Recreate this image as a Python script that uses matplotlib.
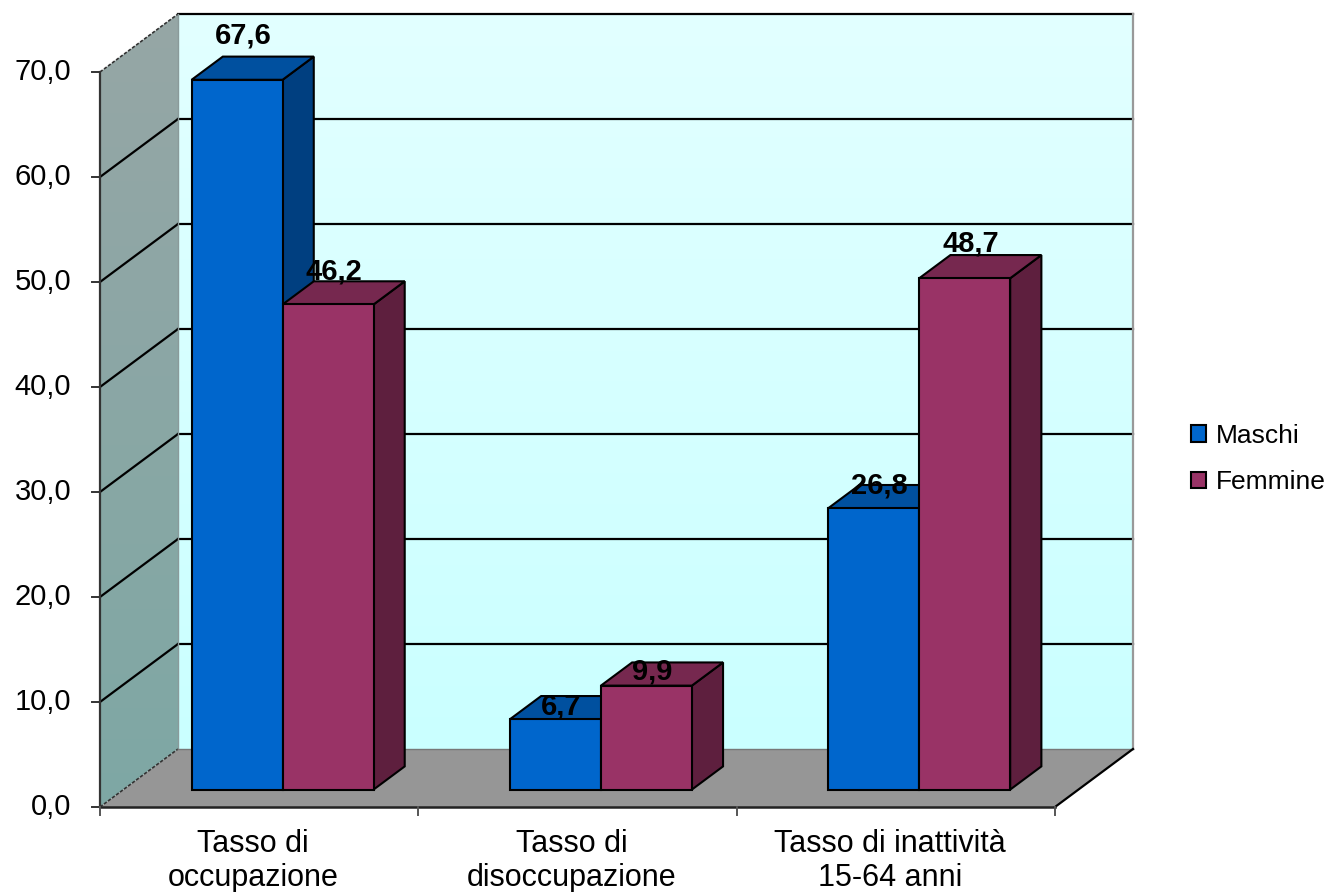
import numpy as np
import matplotlib
matplotlib.use("Agg")
import matplotlib.pyplot as plt
from matplotlib.patches import Polygon, Patch

plt.rcParams['font.family'] = ['Liberation Sans', 'DejaVu Sans']

# ============================================================
# DATA
# ============================================================

categories = ["Tasso di\noccupazione", "Tasso di\ndisoccupazione", "Tasso di inattività\n15-64 anni"]
series_names = ["Maschi", "Femmine"]
maschi = [67.6, 6.7, 26.8]
femmine = [46.2, 9.9, 48.7]
y_ticks = [0, 10, 20, 30, 40, 50, 60, 70]
y_tick_labels = ["0,0", "10,0", "20,0", "30,0", "40,0", "50,0", "60,0", "70,0"]

# ============================================================
# LAYOUT (pixels of the 1343x892 picture)
# ============================================================

W, H = 1343, 892
ORIGIN_PX = (100, 807)        # front corner of floor / y axis
CAT_PX = 318.33               # width of one category on the front edge
UNIT_PX = 10.5                # pixels per value unit
DEPTH_PX = (78, 58)           # shift from front to back wall

DX = DEPTH_PX[0] / CAT_PX
DY = DEPTH_PX[1] / UNIT_PX
YMAX = 70
NCAT = len(categories)

front_colors = ["#0066cc", "#993366"]
top_colors = ["#00509f", "#76284f"]
side_colors = ["#003f80", "#5e1f3e"]


def P(x, v, d):
    return (x + d * DX, v + d * DY)


fig = plt.figure(figsize=(W / 100, H / 100), dpi=100)
ax = fig.add_axes([0, 0, 1, 1])
ax.set_xlim(-ORIGIN_PX[0] / CAT_PX, (W - ORIGIN_PX[0]) / CAT_PX)
ax.set_ylim(-(H - ORIGIN_PX[1]) / UNIT_PX, ORIGIN_PX[1] / UNIT_PX)
ax.axis("off")

px_x = 1.0 / CAT_PX
px_y = 1.0 / UNIT_PX


def gradient_poly(pts, top_rgb, bottom_rgb, z):
    poly = Polygon(pts, closed=True, facecolor="none", edgecolor="none")
    ax.add_patch(poly)
    xs = [p[0] for p in pts]
    ys = [p[1] for p in pts]
    t = np.linspace(0, 1, 256)[:, None]
    top = np.array(top_rgb) / 255.0
    bot = np.array(bottom_rgb) / 255.0
    img = (top[None, None, :] * (1 - t[:, :, None]) + bot[None, None, :] * t[:, :, None])
    img = np.repeat(img, 2, axis=1)
    im = ax.imshow(img, extent=[min(xs), max(xs), min(ys), max(ys)],
                   aspect="auto", origin="upper", zorder=z)
    im.set_clip_path(poly)


# back wall
back = [P(0, 0, 1), P(NCAT, 0, 1), P(NCAT, YMAX, 1), P(0, YMAX, 1)]
gradient_poly(back, (226, 255, 255), (202, 255, 255), 1)
# left wall
left = [P(0, 0, 0), P(0, 0, 1), P(0, YMAX, 1), P(0, YMAX, 0)]
gradient_poly(left, (150, 166, 166), (126, 168, 164), 1)
# floor
floor = [P(0, 0, 0), P(NCAT, 0, 0), P(NCAT, 0, 1), P(0, 0, 1)]
ax.add_patch(Polygon(floor, closed=True, facecolor="#969696", edgecolor="none", zorder=1))

# gridlines
for v in y_ticks[1:]:
    a, b, c = P(0, v, 0), P(0, v, 1), P(NCAT, v, 1)
    ax.plot([b[0], c[0]], [b[1], c[1]], color="black", lw=1.6, zorder=2)
    if v < YMAX:
        ax.plot([a[0], b[0]], [a[1], b[1]], color="black", lw=1.6, zorder=2)

# wall edges
a, b = P(0, YMAX, 0), P(0, YMAX, 1)
ax.plot([a[0], b[0]], [a[1], b[1]], color="#333333", lw=1.2, ls=(0, (2, 1)), zorder=2)
a, b = P(0, 0, 0), P(0, 0, 1)
ax.plot([a[0], b[0]], [a[1], b[1]], color="#333333", lw=1.2, ls=(0, (2, 1)), zorder=2)
a, b = P(0, 0, 1), P(0, YMAX, 1)
ax.plot([a[0], b[0]], [a[1], b[1]], color="#8a9a9a", lw=1.0, zorder=2)
a, b = P(NCAT, 0, 1), P(NCAT, YMAX, 1)
ax.plot([a[0], b[0]], [a[1], b[1]], color="#999999", lw=1.6, zorder=2)
a, b = P(0, 0, 1), P(NCAT, 0, 1)
ax.plot([a[0], b[0]], [a[1], b[1]], color="#777777", lw=1.0, zorder=2)
a, b = P(NCAT, 0, 0), P(NCAT, 0, 1)
ax.plot([a[0], b[0]], [a[1], b[1]], color="black", lw=1.6, zorder=2)

# axes lines and ticks
ax.plot([0, NCAT], [0, 0], color="#222222", lw=1.8, zorder=3)
ax.plot([0, 0], [0, YMAX], color="#333333", lw=1.6, zorder=3)
for v, lab in zip(y_ticks, y_tick_labels):
    ax.plot([-8 * px_x, 0], [v, v], color="#333333", lw=1.4, zorder=3)
    ax.text(-29 * px_x, v, lab, ha="right", va="center", fontsize=21, color="black")
for c in range(NCAT + 1):
    ax.plot([c, c], [0, -8 * px_y], color="#555555", lw=1.4, zorder=3)
for c, lab in enumerate(categories):
    ax.text(c + 0.5 - 6 * px_x, -22 * px_y, lab, ha="center", va="top",
            fontsize=22, linespacing=1.18, color="black")

# bars
w = 1.0 / 3.5
d0, d1 = 0.3, 0.7
values = [maschi, femmine]
z = 4
for c in range(NCAT):
    for s in range(len(series_names)):
        v = values[s][c]
        x0 = c + 0.75 * w + s * w
        x1 = x0 + w
        front = [P(x0, 0, d0), P(x1, 0, d0), P(x1, v, d0), P(x0, v, d0)]
        top = [P(x0, v, d0), P(x1, v, d0), P(x1, v, d1), P(x0, v, d1)]
        side = [P(x1, 0, d0), P(x1, 0, d1), P(x1, v, d1), P(x1, v, d0)]
        for pts, col in [(side, side_colors[s]), (top, top_colors[s]), (front, front_colors[s])]:
            ax.add_patch(Polygon(pts, closed=True, facecolor=col, edgecolor="black",
                                 lw=1.5, joinstyle="miter", zorder=z))
        z += 1
        lx, ly = P((x0 + x1) / 2, v * 1.05 - 0.5, d0)
        ax.text(lx + 6 * px_x, ly, f"{v:.1f}".replace(".", ","), ha="center", va="bottom",
                fontsize=21, fontweight="bold", color="black", zorder=20)

# legend
handles = [Patch(facecolor=front_colors[i], edgecolor="black", lw=1.5, label=n)
           for i, n in enumerate(series_names)]
leg = ax.legend(handles=handles, loc="center left",
                bbox_to_anchor=(1180 / W, 1 - 459 / H), bbox_transform=fig.transFigure,
                frameon=False, fontsize=19, handlelength=0.6, handleheight=0.6,
                handletextpad=0.35, labelspacing=0.85, borderaxespad=0)

fig.savefig("out.png", dpi=100)
